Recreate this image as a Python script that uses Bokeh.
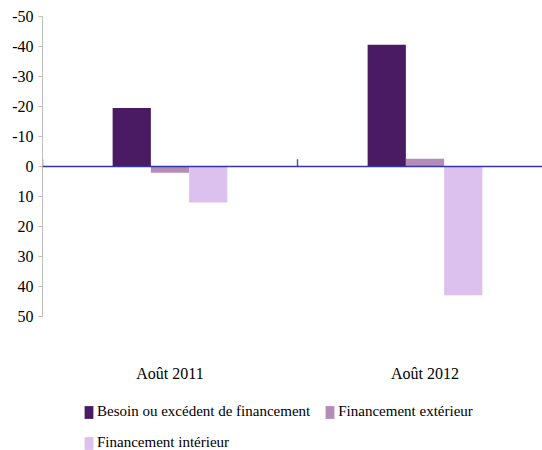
from bokeh.plotting import figure
from bokeh.models import (Range1d, FixedTicker, Span, Legend, LegendItem,
                          ColumnDataSource)
from bokeh.core.properties import value
from bokeh.embed import file_html
from bokeh.resources import INLINE

# Data
categories = ["Août 2011", "Août 2012"]
series_names = ["Besoin ou excédent de financement",
                "Financement extérieur",
                "Financement intérieur"]
besoin = [-19.5, -40.6]
exterieur = [2.1, -2.6]
interieur = [12.0, 42.9]
y_ticks = [-50, -40, -30, -20, -10, 0, 10, 20, 30, 40, 50]

colors = ["#4A1A62", "#B48CB8", "#DCC0EE"]
FONT = "Liberation Serif"

W, H = 542, 450
left, top = 42, 16
px_per_unit = 3.0
band_px = 255.0

frame_w = W - left
frame_h = H - top

p = figure(width=W, height=H, output_backend="svg", toolbar_location=None,
           x_range=Range1d(0, frame_w / band_px),
           # value axis runs top-down: -50 at the top
           y_range=Range1d(-50 + frame_h / px_per_unit, -50),
           x_axis_location=None,
           min_border_left=left, min_border_top=top,
           min_border_right=0, min_border_bottom=0)
p.outline_line_color = None
p.xgrid.visible = False
p.ygrid.visible = False
p.background_fill_color = "white"
p.border_fill_color = "white"

# value axis
ax = p.yaxis[0]
ax.ticker = FixedTicker(ticks=y_ticks)
ax.bounds = (-50, 50)
ax.axis_line_color = "#BDBDBD"
ax.major_tick_line_color = "#BDBDBD"
ax.major_tick_out = 4
ax.major_tick_in = 0
ax.minor_tick_line_color = None
ax.major_label_overrides = {t: str(t) for t in y_ticks}
ax.major_label_text_font = FONT
ax.major_label_text_font_size = "16px"
ax.major_label_text_color = "black"
ax.major_label_standoff = 5

# grouped bars
bar_w = 0.15
offsets = [-bar_w, 0.0, bar_w]
renderers = []
for vals, off, col in zip([besoin, exterieur, interieur], offsets, colors):
    src = ColumnDataSource(dict(x=[i + 0.5 + off for i in range(len(categories))],
                                top=vals))
    r = p.vbar(x="x", top="top", bottom=0, width=bar_w, source=src,
               fill_color=col, line_color=None)
    renderers.append(r)

# category axis drawn along zero
p.add_layout(Span(location=0, dimension="width", line_color="#3333AA",
                  line_width=1.5))
sep = list(range(len(categories)))
p.segment(x0=sep, y0=[0] * len(sep), x1=sep, y1=[-2.4] * len(sep),
          line_color="#5555BB", line_width=1.5)

# category labels
p.text(x=[i + 0.5 for i in range(len(categories))], y=[69] * len(categories),
       text=categories, text_align="center", text_baseline="middle",
       text_font=value(FONT), text_font_size="16px", text_color="black")

legend = Legend(items=[LegendItem(label=n, renderers=[r])
                       for n, r in zip(series_names, renderers)],
                location=(41, -1), orientation="horizontal", ncols=2,
                glyph_width=11, glyph_height=16, label_standoff=3,
                spacing=14, padding=0, margin=0,
                label_text_font=FONT, label_text_font_size="15px",
                label_text_color="black",
                border_line_color=None, background_fill_alpha=0)
p.add_layout(legend)

open("out.html", "w").write(file_html(p, INLINE))
